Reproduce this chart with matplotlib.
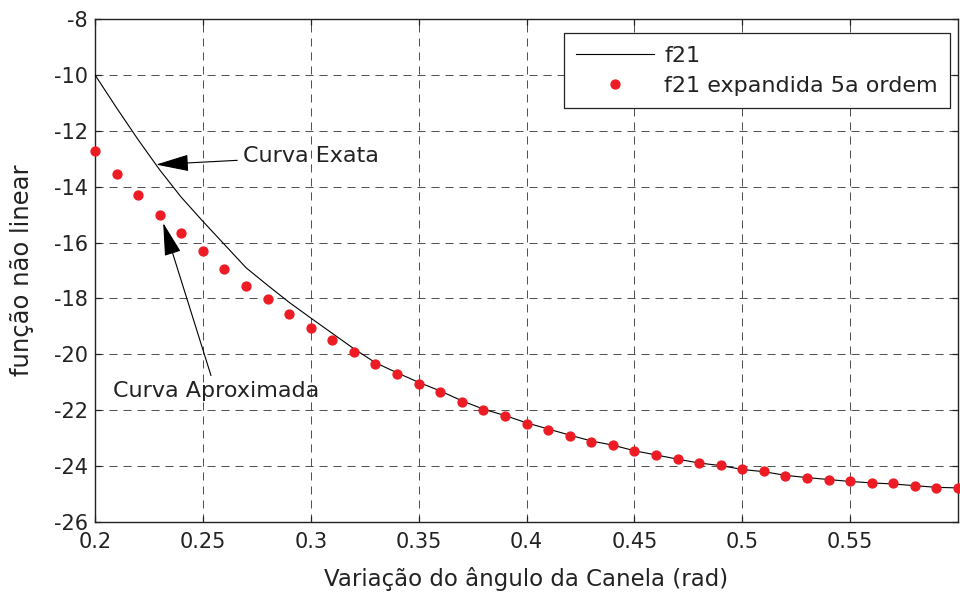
import matplotlib
matplotlib.use("Agg")
import matplotlib.pyplot as plt

# ---- data ----
x_vals = [0.20, 0.21, 0.22, 0.23, 0.24, 0.25, 0.26, 0.27, 0.28, 0.29,
          0.30, 0.31, 0.32, 0.33, 0.34, 0.35, 0.36, 0.37, 0.38, 0.39,
          0.40, 0.41, 0.42, 0.43, 0.44, 0.45, 0.46, 0.47, 0.48, 0.49,
          0.50, 0.51, 0.52, 0.53, 0.54, 0.55, 0.56, 0.57, 0.58, 0.59, 0.60]

f21_exact = [-10.00, -11.18, -12.32, -13.40, -14.38, -15.24, -16.07, -16.90, -17.53, -18.14,
             -18.70, -19.25, -19.80, -20.30, -20.66, -21.00, -21.31, -21.66, -21.96, -22.19,
             -22.45, -22.67, -22.89, -23.10, -23.25, -23.45, -23.60, -23.75, -23.89, -23.98,
             -24.12, -24.20, -24.33, -24.41, -24.48, -24.55, -24.60, -24.64, -24.70, -24.76, -24.78]

f21_5th = [-12.74, -13.54, -14.31, -15.02, -15.67, -16.32, -16.95, -17.54, -18.03, -18.54,
           -19.06, -19.49, -19.92, -20.35, -20.70, -21.06, -21.34, -21.70, -21.99, -22.20,
           -22.48, -22.69, -22.91, -23.12, -23.25, -23.46, -23.60, -23.76, -23.90, -23.97,
           -24.12, -24.19, -24.34, -24.41, -24.48, -24.55, -24.61, -24.61, -24.70, -24.77, -24.77]

x_ticks = [0.2, 0.25, 0.3, 0.35, 0.4, 0.45, 0.5, 0.55]
x_tick_labels = ["0.2", "0.25", "0.3", "0.35", "0.4", "0.45", "0.5", "0.55"]
y_ticks = [-26, -24, -22, -20, -18, -16, -14, -12, -10, -8]
y_tick_labels = ["-26", "-24", "-22", "-20", "-18", "-16", "-14", "-12", "-10", "-8"]

legend_labels = ["f21", "f21 expandida 5a ordem"]
xlabel = "Variação do ângulo da Canela (rad)"
ylabel = "função não linear"
ann_exact = "Curva Exata"
ann_approx = "Curva Aproximada"

plt.rcParams['font.family'] = ['DejaVu Sans']

fig = plt.figure(figsize=(9.6, 5.94), dpi=100)
ax = fig.add_axes([95/960, 1 - 522/594, (958 - 95)/960, (522 - 19)/594])

ax.plot(x_vals, f21_exact, color='black', lw=0.8, label=legend_labels[0], zorder=3)
ax.plot(x_vals, f21_5th, linestyle='none', marker='o', markersize=6.4,
        markerfacecolor='#ED1C24', markeredgecolor='#ED1C24', label=legend_labels[1],
        clip_on=False, zorder=4)

ax.set_xlim(0.2, 0.6)
ax.set_ylim(-26, -8)
ax.set_xticks(x_ticks)
ax.set_xticklabels(x_tick_labels)
ax.set_yticks(y_ticks)
ax.set_yticklabels(y_tick_labels)

ax.grid(True, linestyle=(0, (8.3, 6.1)), color='0.3', lw=0.7)
ax.set_axisbelow(True)

ax.tick_params(axis='both', direction='in', top=True, right=True, length=4.5,
               width=0.9, labelsize=15, colors='#222222')
ax.tick_params(axis='x', pad=7)
ax.tick_params(axis='y', pad=5)
for s in ax.spines.values():
    s.set_linewidth(1.0)
    s.set_color('#222222')

ax.set_xlabel(xlabel, fontsize=16.5, color='#222222', labelpad=11)
ax.set_ylabel(ylabel, fontsize=17.5, color='#222222', labelpad=14)

arrow_kw = dict(arrowstyle='-|>,head_length=1.3,head_width=0.33', color='black',
                lw=0.8, shrinkA=2, shrinkB=0)
ax.annotate(ann_exact, xy=(0.2283, -13.21), xytext=(0.2685, -12.92),
            ha='left', va='center', fontsize=16, color='#222222',
            arrowprops=arrow_kw)
ax.annotate(ann_approx, xy=(0.2316, -15.30), xytext=(0.2560, -21.31),
            ha='center', va='center', fontsize=16, color='#222222',
            arrowprops=arrow_kw)

leg = ax.legend(loc='upper right', bbox_to_anchor=((950 - 95)/863, 1 - (33.3 - 19)/503),
                borderaxespad=0, fontsize=16, handlelength=3.5, handletextpad=0.45,
                labelspacing=0.45, borderpad=0.55, numpoints=1, fancybox=False,
                framealpha=1, edgecolor='#222222')
leg.get_frame().set_linewidth(0.9)
for t in leg.get_texts():
    t.set_color('#222222')

fig.savefig("out.png", dpi=100)
